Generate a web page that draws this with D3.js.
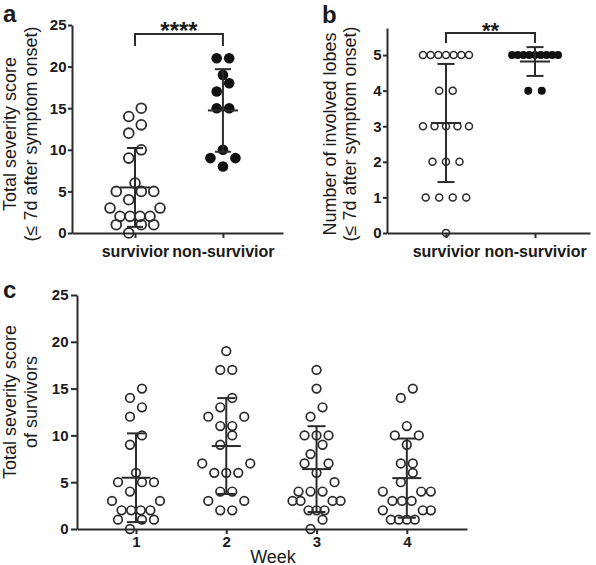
<!DOCTYPE html>
<html><head><meta charset="utf-8">
<script src="https://cdn.jsdelivr.net/npm/d3@7"></script>
<style>
body{margin:0;background:#fff}
svg{display:block}
text{font-family:"Liberation Sans",Arial,Helvetica,sans-serif;fill:#1a1a1a}
</style>
</head><body>
<svg id="chart" width="596" height="565"></svg>
<script>
// ---------- data ----------
const groupsAB = ["survivior", "non-survivior"];
const scoreSurvivor = [15,14,13,12,10,9,6,5,5,5,4,3,3,2,2,2,2,1,1,1,0];
const scoreNonSurvivor = [21,21,19,18,17,15,15,10,9,9,8];
const lobesSurvivor = [5,5,5,5,5,5,5,4,4,3,3,3,3,3,2,2,2,1,1,1,1,0];
const lobesNonSurvivor = [5,5,5,5,5,5,5,5,5,4,4];
const weeks = ["1","2","3","4"];
const week1 = [15,14,13,12,10,9,6,5,5,5,4,3,3,2,2,2,2,1,1,1,0];
const week2 = [19,17,17,14,13,12,12,11,11,10,9,7,7,6,6,6,4,4,3,3,2,2];
const week3 = [17,15,13,12,10,10,10,9,8,7,7,6,5,4,4,4,3,3,3,3,2,2,2,1,0];
const week4 = [15,14,11,10,10,9,7,7,6,5,4,4,4,3,3,3,2,2,2,1,1,1,1];
const ticksScore = [0,5,10,15,20,25];
const ticksLobes = [0,1,2,3,4,5];
const sigA = "****";
const sigB = "**";

const svg = d3.select("#chart");
const INK = "#2b2b2b";

function styleAxis(g, fs){
  g.select(".domain").attr("stroke", INK).attr("stroke-width", 2);
  g.selectAll(".tick line").attr("stroke", INK).attr("stroke-width", 2);
  g.selectAll(".tick text").attr("fill", "#1a1a1a").style("font-size", fs+"px").style("font-weight","bold");
}

// column-scatter layout: group nearby values into rows, spread each row centre-out
function scatterLayout(vals, y, sMax, maxSpan, binPx){
  const sorted = vals.slice().sort(d3.ascending);
  const out = [];
  let i = 0;
  while (i < sorted.length){
    const y0 = y(sorted[i]);
    let j = i;
    while (j < sorted.length && Math.abs(y0 - y(sorted[j])) < binPx) j++;
    const bin = sorted.slice(i, j);
    const n = bin.length;
    const s = n > 1 ? Math.min(sMax, maxSpan/(n-1)) : 0;
    const slots = d3.range(n).map(k => k - (n-1)/2)
      .sort((a,b) => (Math.abs(a) - Math.abs(b)) || (a - b));
    bin.forEach((v,k) => out.push({v, dx: slots[k]*s}));
    i = j;
  }
  return out;
}

function dots(g, vals, cx, y, opt){
  const nodes = scatterLayout(vals, y, opt.sMax, opt.maxSpan, 14);
  g.append("g").selectAll("circle").data(nodes).join("circle")
    .attr("cx", d => cx + d.dx).attr("cy", d => y(d.v)).attr("r", opt.r)
    .attr("fill", opt.filled ? "#111" : "none")
    .attr("stroke", opt.filled ? "none" : INK)
    .attr("stroke-width", opt.sw || 1.8);
}

function errbar(g, vals, cx, y, mw, cw){
  const m = d3.mean(vals), s = d3.deviation(vals);
  const e = g.append("g").attr("stroke", INK).attr("stroke-width", 2).attr("fill","none");
  e.append("line").attr("x1", cx).attr("x2", cx).attr("y1", y(m - s)).attr("y2", y(m + s));
  e.append("line").attr("x1", cx - cw).attr("x2", cx + cw).attr("y1", y(m + s)).attr("y2", y(m + s));
  e.append("line").attr("x1", cx - cw).attr("x2", cx + cw).attr("y1", y(m - s)).attr("y2", y(m - s));
  e.append("line").attr("x1", cx - mw).attr("x2", cx + mw).attr("y1", y(m)).attr("y2", y(m));
}

function ytitle(x, y, txt){
  svg.append("text").attr("transform", `translate(${x},${y}) rotate(-90)`)
    .attr("text-anchor","middle").style("font-size","18px").text(txt);
}
function panelLabel(x, y, t){
  svg.append("text").attr("x", x).attr("y", y).style("font-size","24px").style("font-weight","bold").text(t);
}
function bracket(x1, x2, yTop, yBot, label, fs, yText){
  svg.append("path").attr("d", `M${x1},${yBot}V${yTop}H${x2}V${yBot}`)
    .attr("fill","none").attr("stroke", INK).attr("stroke-width", 2);
  svg.append("text").attr("x", (x1+x2)/2).attr("y", yText).attr("text-anchor","middle")
    .style("font-size", fs+"px").style("font-weight","bold").text(label);
}

// ---------- panel a ----------
{
  const ya = d3.scaleLinear().domain([0,25]).range([233,25]);
  const xa = d3.scalePoint().domain(groupsAB).range([72,283]).padding(0.7).align(0.512);
  const g = svg.append("g");
  dots(g, scoreSurvivor, xa(groupsAB[0]), ya, {r:4.9, sMax:12.5, maxSpan:50});
  dots(g, scoreNonSurvivor, xa(groupsAB[1]), ya, {r:5.3, sMax:12.5, maxSpan:50, filled:true});
  errbar(g, scoreSurvivor, xa(groupsAB[0]), ya, 15, 8);
  errbar(g, scoreNonSurvivor, xa(groupsAB[1]), ya, 15, 8);
  const gy = svg.append("g").attr("transform","translate(72,0)")
    .call(d3.axisLeft(ya).tickValues(ticksScore).tickSize(4).tickPadding(1.5).tickSizeOuter(0));
  styleAxis(gy, 15);
  const gx = svg.append("g").attr("transform","translate(0,233)")
    .call(d3.axisBottom(xa).tickSize(5).tickPadding(8).tickSizeOuter(0));
  styleAxis(gx, 16);
  ytitle(16, 134, "Total severity score");
  ytitle(36.5, 134, "(≤ 7d after symptom onset)");
  panelLabel(3, 21.5, "a");
  bracket(xa(groupsAB[0]), xa(groupsAB[1]), 34, 46, sigA, 24, 39);
}

// ---------- panel b ----------
{
  const yb = d3.scaleLinear().domain([0,5.76]).range([233,28]);
  const xb = d3.scalePoint().domain(groupsAB).range([387,590]).padding(0.64).align(0.5175);
  const g = svg.append("g");
  dots(g, lobesSurvivor, xb(groupsAB[0]), yb, {r:3.5, sMax:13.5, maxSpan:46, sw:1.5});
  dots(g, lobesNonSurvivor, xb(groupsAB[1]), yb, {r:4, sMax:13.5, maxSpan:46, filled:true});
  errbar(g, lobesSurvivor, xb(groupsAB[0]), yb, 15, 8.5);
  errbar(g, lobesNonSurvivor, xb(groupsAB[1]), yb, 15, 8.5);
  const gy = svg.append("g").attr("transform","translate(387,0)")
    .call(d3.axisLeft(yb).tickValues(ticksLobes).tickFormat(d3.format("d")).tickSize(4).tickPadding(1.5).tickSizeOuter(0));
  styleAxis(gy, 15);
  const gx = svg.append("g").attr("transform","translate(0,233)")
    .call(d3.axisBottom(xb).tickSize(5).tickPadding(8).tickSizeOuter(0));
  styleAxis(gx, 16);
  ytitle(336, 134, "Number of involved lobes");
  ytitle(356, 134, "(≤ 7d after symptom onset)");
  panelLabel(322, 23, "b");
  bracket(xb(groupsAB[0]), xb(groupsAB[1]), 33, 43, sigB, 22, 37.5);
}

// ---------- panel c ----------
{
  const yc = d3.scaleLinear().domain([0,25]).range([529,295]);
  const xc = d3.scalePoint().domain(weeks).range([77,467]).padding(0.66).align(0.495);
  const series = [week1, week2, week3, week4];
  const g = svg.append("g");
  series.forEach((vals, i) => {
    dots(g, vals, xc(weeks[i]), yc, {r:4.3, sMax:12, maxSpan:48, sw:1.7});
  });
  series.forEach((vals, i) => errbar(g, vals, xc(weeks[i]), yc, 14.5, 9));
  const gy = svg.append("g").attr("transform","translate(77,0)")
    .call(d3.axisLeft(yc).tickValues(ticksScore).tickSize(6).tickPadding(2.5).tickSizeOuter(0));
  styleAxis(gy, 15);
  const gx = svg.append("g").attr("transform","translate(0,529)")
    .call(d3.axisBottom(xc).tickSize(5).tickPadding(2).tickSizeOuter(0));
  styleAxis(gx, 15);
  ytitle(16, 402, "Total severity score");
  ytitle(36.5, 402, "of survivors");
  panelLabel(3, 298, "c");
  svg.append("text").attr("x", 273).attr("y", 562.5).attr("text-anchor","middle")
    .style("font-size","18px").text("Week");
}
</script>
</body></html>
